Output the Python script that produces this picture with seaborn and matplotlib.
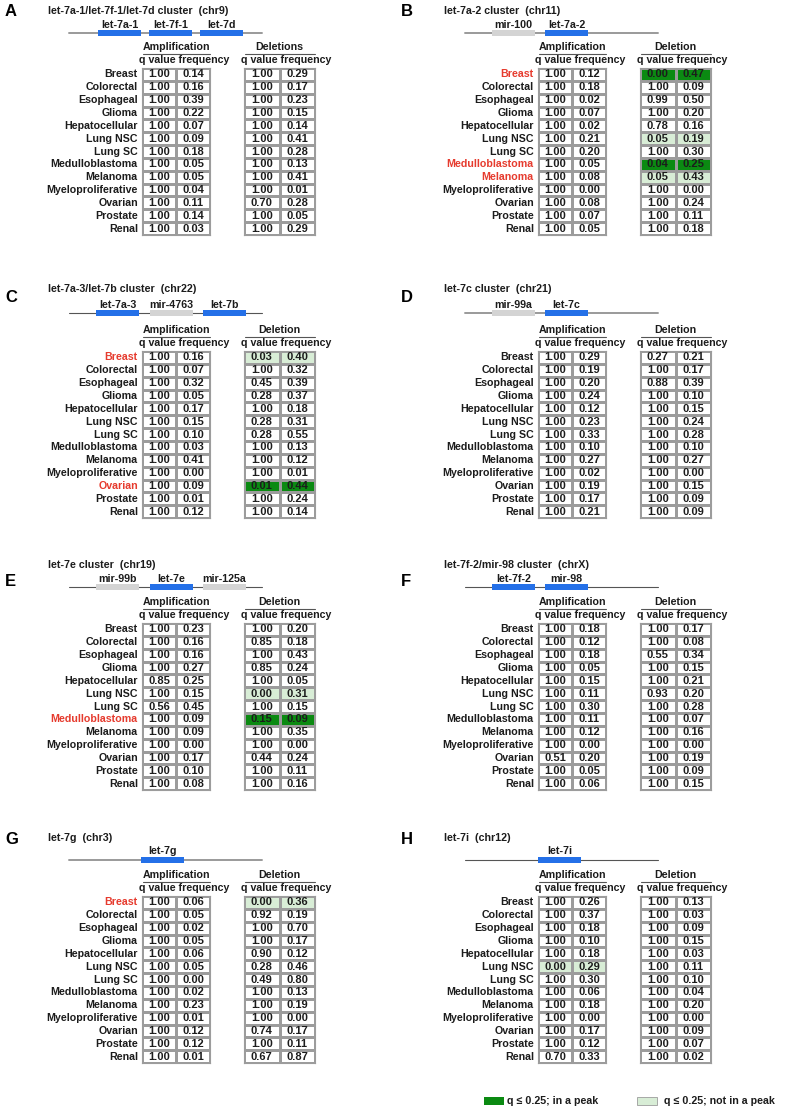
import numpy as np
import matplotlib
matplotlib.use("Agg")
import matplotlib.pyplot as plt
from matplotlib.colors import ListedColormap
from matplotlib.patches import Rectangle
import seaborn as sns

sns.set_style("white")
plt.rcParams["font.family"] = ["Liberation Sans", "DejaVu Sans"]

tissues = ["Breast", "Colorectal", "Esophageal", "Glioma", "Hepatocellular", "Lung NSC",
           "Lung SC", "Medulloblastoma", "Melanoma", "Myeloproliferative", "Ovarian",
           "Prostate", "Renal"]

# panel A
a_amp_q = [1.00] * 13
a_amp_f = [0.14, 0.16, 0.39, 0.22, 0.07, 0.09, 0.18, 0.05, 0.05, 0.04, 0.11, 0.14, 0.03]
a_del_q = [1.00, 1.00, 1.00, 1.00, 1.00, 1.00, 1.00, 1.00, 1.00, 1.00, 0.70, 1.00, 1.00]
a_del_f = [0.29, 0.17, 0.23, 0.15, 0.14, 0.41, 0.28, 0.13, 0.41, 0.01, 0.28, 0.05, 0.29]
# panel B
b_amp_q = [1.00] * 13
b_amp_f = [0.12, 0.18, 0.02, 0.07, 0.02, 0.21, 0.20, 0.05, 0.08, 0.00, 0.08, 0.07, 0.05]
b_del_q = [0.00, 1.00, 0.99, 1.00, 0.78, 0.05, 1.00, 0.04, 0.05, 1.00, 1.00, 1.00, 1.00]
b_del_f = [0.47, 0.09, 0.50, 0.20, 0.16, 0.19, 0.30, 0.25, 0.43, 0.00, 0.24, 0.11, 0.18]
# panel C
c_amp_q = [1.00] * 13
c_amp_f = [0.16, 0.07, 0.32, 0.05, 0.17, 0.15, 0.10, 0.03, 0.41, 0.00, 0.09, 0.01, 0.12]
c_del_q = [0.03, 1.00, 0.45, 0.28, 1.00, 0.28, 0.28, 1.00, 1.00, 1.00, 0.01, 1.00, 1.00]
c_del_f = [0.40, 0.32, 0.39, 0.37, 0.18, 0.31, 0.55, 0.13, 0.12, 0.01, 0.44, 0.24, 0.14]
# panel D
d_amp_q = [1.00] * 13
d_amp_f = [0.29, 0.19, 0.20, 0.24, 0.12, 0.23, 0.33, 0.10, 0.27, 0.02, 0.19, 0.17, 0.21]
d_del_q = [0.27, 1.00, 0.88, 1.00, 1.00, 1.00, 1.00, 1.00, 1.00, 1.00, 1.00, 1.00, 1.00]
d_del_f = [0.21, 0.17, 0.39, 0.10, 0.15, 0.24, 0.28, 0.10, 0.27, 0.00, 0.15, 0.09, 0.09]
# panel E
e_amp_q = [1.00, 1.00, 1.00, 1.00, 0.85, 1.00, 0.56, 1.00, 1.00, 1.00, 1.00, 1.00, 1.00]
e_amp_f = [0.23, 0.16, 0.16, 0.27, 0.25, 0.15, 0.45, 0.09, 0.09, 0.00, 0.17, 0.10, 0.08]
e_del_q = [1.00, 0.85, 1.00, 0.85, 1.00, 0.00, 1.00, 0.15, 1.00, 1.00, 0.44, 1.00, 1.00]
e_del_f = [0.20, 0.18, 0.43, 0.24, 0.05, 0.31, 0.15, 0.09, 0.35, 0.00, 0.24, 0.11, 0.16]
# panel F
f_amp_q = [1.00, 1.00, 1.00, 1.00, 1.00, 1.00, 1.00, 1.00, 1.00, 1.00, 0.51, 1.00, 1.00]
f_amp_f = [0.18, 0.12, 0.18, 0.05, 0.15, 0.11, 0.30, 0.11, 0.12, 0.00, 0.20, 0.05, 0.06]
f_del_q = [1.00, 1.00, 0.55, 1.00, 1.00, 0.93, 1.00, 1.00, 1.00, 1.00, 1.00, 1.00, 1.00]
f_del_f = [0.17, 0.08, 0.34, 0.15, 0.21, 0.20, 0.28, 0.07, 0.16, 0.00, 0.19, 0.09, 0.15]
# panel G
g_amp_q = [1.00] * 13
g_amp_f = [0.06, 0.05, 0.02, 0.05, 0.06, 0.05, 0.00, 0.02, 0.23, 0.01, 0.12, 0.12, 0.01]
g_del_q = [0.00, 0.92, 1.00, 1.00, 0.90, 0.28, 0.49, 1.00, 1.00, 1.00, 0.74, 1.00, 0.67]
g_del_f = [0.36, 0.19, 0.70, 0.17, 0.12, 0.46, 0.80, 0.13, 0.19, 0.00, 0.17, 0.11, 0.87]
# panel H
h_amp_q = [1.00, 1.00, 1.00, 1.00, 1.00, 0.00, 1.00, 1.00, 1.00, 1.00, 1.00, 1.00, 0.70]
h_amp_f = [0.26, 0.37, 0.18, 0.10, 0.18, 0.29, 0.30, 0.06, 0.18, 0.00, 0.17, 0.12, 0.33]
h_del_q = [1.00] * 13
h_del_f = [0.13, 0.03, 0.09, 0.15, 0.03, 0.11, 0.10, 0.04, 0.20, 0.00, 0.09, 0.07, 0.02]

titles = {
    "A": "let-7a-1/let-7f-1/let-7d cluster  (chr9)",
    "B": "let-7a-2 cluster  (chr11)",
    "C": "let-7a-3/let-7b cluster  (chr22)",
    "D": "let-7c cluster  (chr21)",
    "E": "let-7e cluster  (chr19)",
    "F": "let-7f-2/mir-98 cluster  (chrX)",
    "G": "let-7g  (chr3)",
    "H": "let-7i  (chr12)",
}
genes = {
    "A": ["let-7a-1", "let-7f-1", "let-7d"],
    "B": ["mir-100", "let-7a-2"],
    "C": ["let-7a-3", "mir-4763", "let-7b"],
    "D": ["mir-99a", "let-7c"],
    "E": ["mir-99b", "let-7e", "mir-125a"],
    "F": ["let-7f-2", "mir-98"],
    "G": ["let-7g"],
    "H": ["let-7i"],
}
other_genes = ["mir-100", "mir-4763", "mir-99a", "mir-99b", "mir-125a"]

peak_cells = {"B": {"del": ["Breast", "Medulloblastoma"]},
              "C": {"del": ["Ovarian"]},
              "E": {"del": ["Medulloblastoma"]}}
nopeak_cells = {"B": {"del": ["Lung NSC", "Melanoma"]},
                "C": {"del": ["Breast"]},
                "E": {"del": ["Lung NSC"]},
                "G": {"del": ["Breast"]},
                "H": {"amp": ["Lung NSC"]}}
red_labels = {"B": ["Breast", "Medulloblastoma", "Melanoma"],
              "C": ["Breast", "Ovarian"],
              "E": ["Medulloblastoma"],
              "G": ["Breast"]}

tables = {
    "A": (a_amp_q, a_amp_f, a_del_q, a_del_f),
    "B": (b_amp_q, b_amp_f, b_del_q, b_del_f),
    "C": (c_amp_q, c_amp_f, c_del_q, c_del_f),
    "D": (d_amp_q, d_amp_f, d_del_q, d_del_f),
    "E": (e_amp_q, e_amp_f, e_del_q, e_del_f),
    "F": (f_amp_q, f_amp_f, f_del_q, f_del_f),
    "G": (g_amp_q, g_amp_f, g_del_q, g_del_f),
    "H": (h_amp_q, h_amp_f, h_del_q, h_del_f),
}

# layout in pixels
W, H = 785, 1114
DARK, LIGHT, BLUE, GREY = "#0b8a12", "#d8edd6", "#2470e8", "#d4d4d4"
INK, RED, GRID = "#1c1c1c", "#e63b2e", "#9c9c9c"
FS = 7.7
row_h = 12.85
amp_w, del_w, del_dx = 68, 71, 102
col_x = [142, 538]
row_top = [68, 351, 623, 896]
title_y = [11, 289, 565, 838]
bar_y = [33, 313, 587, 860]
letter_y = [12, 298, 582, 840]
gene_start = {"A": -44, "B": -46, "C": -46, "D": -46, "E": -46, "F": -46, "G": -1, "H": 0}
gene_step = {"A": 51, "C": 53.5, "E": 53.5}
# backbone line: grey/thick in some panels, dark/thin in others
thin_line = ["C", "E", "F", "H"]

cmap = ListedColormap(["white", LIGHT, DARK])

fig = plt.figure(figsize=(W / 100, H / 100), dpi=100)
canvas = fig.add_axes([0, 0, 1, 1])
canvas.set_xlim(0, W)
canvas.set_ylim(H, 0)
canvas.axis("off")


def px_axes(x, y, w, h):
    return fig.add_axes([x / W, 1 - (y + h) / H, w / W, h / H])


def draw_table(x, y, w, qs, fs, status, labels=None, reds=()):
    ax = px_axes(x, y, w, row_h * len(qs))
    annot = np.array([[f"{q:.2f}", f"{f:.2f}"] for q, f in zip(qs, fs)])
    sns.heatmap(status, ax=ax, cmap=cmap, vmin=-0.5, vmax=2.5, annot=annot, fmt="",
                cbar=False, linewidths=0.8, linecolor=GRID, xticklabels=False,
                yticklabels=labels if labels else False,
                annot_kws=dict(fontsize=8.0, fontweight="bold", color=INK))
    for sp in ax.spines.values():
        sp.set_visible(True)
        sp.set_color(GRID)
        sp.set_linewidth(0.8)
    if labels:
        ax.tick_params(axis="y", length=0, pad=3)
        ax.set_yticklabels(labels, rotation=0, fontsize=FS, fontweight="bold")
        for lbl in ax.get_yticklabels():
            lbl.set_color(RED if lbl.get_text() in reds else INK)
    return ax


for i, key in enumerate("ABCDEFGH"):
    r, c = divmod(i, 2)
    ax_x = col_x[c]
    dx = ax_x + del_dx
    top = row_top[r]
    amp_q, amp_f, del_q, del_f = tables[key]

    # letter and title
    canvas.text(ax_x - 137, letter_y[r], key, fontsize=12, fontweight="bold",
                ha="left", va="center", color="black")
    canvas.text(ax_x - 94, title_y[r], titles[key], fontsize=FS, fontweight="bold",
                ha="left", va="center", color=INK)

    # gene cluster diagram
    by = bar_y[r]
    if key in thin_line:
        canvas.plot([ax_x - 73, ax_x + 120], [by, by], color="#555555", lw=0.8, zorder=1)
    else:
        canvas.plot([ax_x - 73, ax_x + 120], [by, by], color="#9a9a9a", lw=1.4, zorder=1)
    step = gene_step.get(key, 53)
    for j, g in enumerate(genes[key]):
        gx = ax_x + gene_start[key] + j * step
        col = GREY if g in other_genes else BLUE
        canvas.add_patch(Rectangle((gx, by - 2.6), 43, 5.2, color=col, zorder=2, lw=0))
        canvas.text(gx + 21.5, by - 8.5, g, fontsize=FS, fontweight="bold",
                    ha="center", va="center", color=INK)

    # headers
    del_name = "Deletions" if key == "A" else "Deletion"
    for tx, tw, name in [(ax_x, amp_w, "Amplification"), (dx, del_w, del_name)]:
        canvas.text(tx + tw / 2, top - 21, name, fontsize=FS, fontweight="bold",
                    ha="center", va="center", color=INK)
        canvas.plot([tx + 1, tx + tw], [top - 14.5, top - 14.5], color="#555555", lw=0.8)
        canvas.text(tx - 3, top - 8, "q value frequency", fontsize=FS, fontweight="bold",
                    ha="left", va="center", color=INK)

    # tables
    for kind, qs, fs, tx, tw in [("amp", amp_q, amp_f, ax_x, amp_w),
                                 ("del", del_q, del_f, dx, del_w)]:
        status = np.zeros((len(tissues), 2))
        for t in nopeak_cells.get(key, {}).get(kind, []):
            status[tissues.index(t), :] = 1
        for t in peak_cells.get(key, {}).get(kind, []):
            status[tissues.index(t), :] = 2
        draw_table(tx, top, tw, qs, fs, status,
                   labels=tissues if kind == "amp" else None,
                   reds=red_labels.get(key, []))

# legend
legend_items = [(DARK, "none", "q \u2264 0.25; in a peak", 484, 507),
                (LIGHT, GRID, "q \u2264 0.25; not in a peak", 637, 664)]
for fc, ec, label, bx, tx in legend_items:
    canvas.add_patch(Rectangle((bx, 1097), 20, 8, facecolor=fc, edgecolor=ec, lw=0.6))
    canvas.text(tx, 1101, label, fontsize=FS, fontweight="bold", ha="left",
                va="center", color=INK)

fig.savefig("out.png", dpi=100)
